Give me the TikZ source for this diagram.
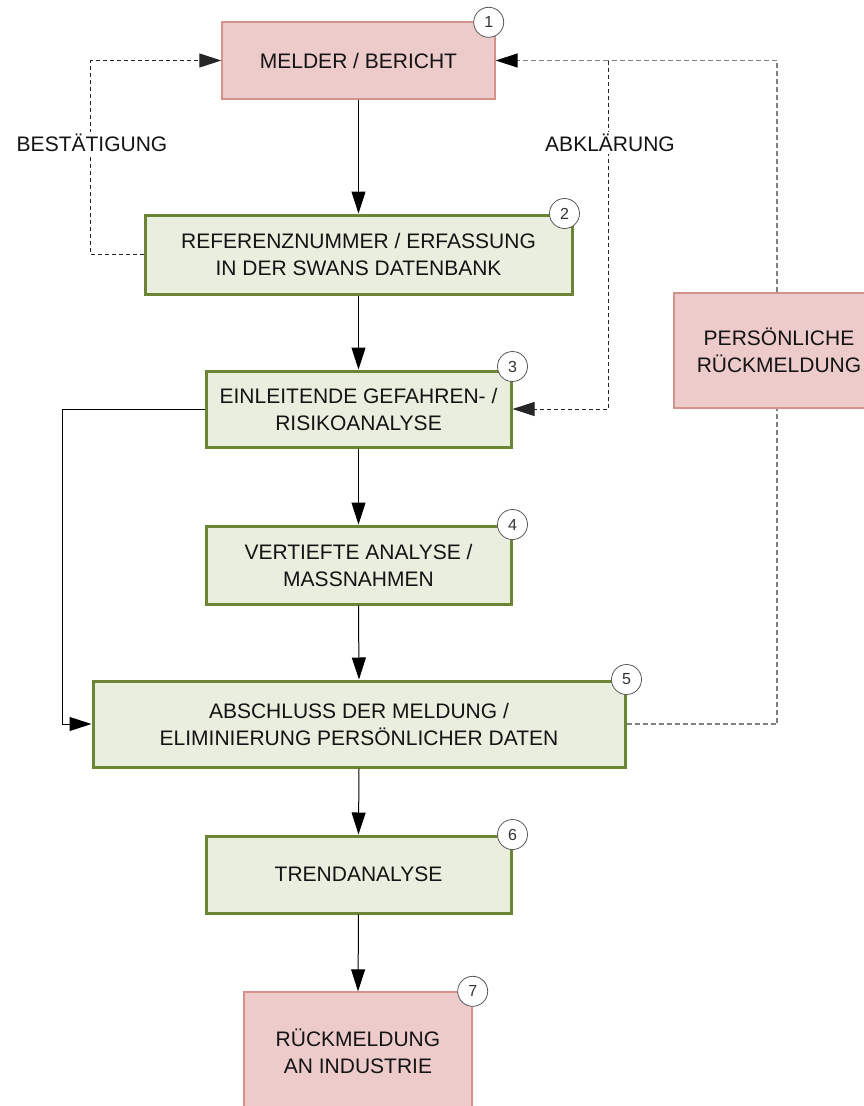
\documentclass[tikz,border=0pt]{standalone}
\usepackage{fontspec}
\setmainfont{Liberation Sans}
\usepackage{xcolor}
\usepackage{tikz}
\usetikzlibrary{arrows.meta,calc,positioning}
\definecolor{fpink}{HTML}{ECCBCA}
\definecolor{fpinkline}{HTML}{D4928C}
\definecolor{fgreen}{HTML}{EAEEDE}
\definecolor{fgreenline}{HTML}{6B8535}
\tikzset{
  >={Triangle[length=22pt,width=14pt]},
  ftext/.style={font=\fontsize{21}{27}\selectfont, text=black!92, align=center},
  fmeld/.style={ftext, rectangle, draw=fpinkline, fill=fpink, line width=1.4pt, inner sep=0pt},
  fproc/.style={ftext, rectangle, draw=fgreenline, fill=fgreen, line width=3pt, inner sep=0pt},
  fnum/.style={circle, draw=black!65, fill=white, line width=0.8pt, minimum size=30pt,
               inner sep=0pt, font=\fontsize{16}{16}\selectfont, text=black!80},
  fflow/.style={->, black, line width=1pt},
  fdash/.style={black!85, line width=1pt, dash pattern=on 4pt off 3pt},
  fdashg/.style={black!50, line width=1.2pt, dash pattern=on 5pt off 3pt},
  flbl/.style={ftext, fill=white, inner sep=2pt},
}
\begin{document}
\begin{tikzpicture}[x=1pt,y=-1pt]
  \useasboundingbox (0,0) rectangle (863,1106);

  % Hauptablauf
  \node[fmeld, minimum width=273pt, minimum height=77pt] (b1) at (358.5,60.5) {MELDER / BERICHT};
  \node[fproc, minimum width=427pt, minimum height=79pt] (b2) at (358.5,254.5)
       {REFERENZNUMMER / ERFASSUNG\\IN DER SWANS DATENBANK};
  \node[fproc, minimum width=305pt, minimum height=76pt] (b3) at (358.5,409)
       {EINLEITENDE GEFAHREN- /\\RISIKOANALYSE};
  \node[fproc, minimum width=305pt, minimum height=78pt] (b4) at (358.5,565)
       {VERTIEFTE ANALYSE /\\MASSNAHMEN};
  \node[fproc, minimum width=532pt, minimum height=86pt] (b5) at (359,724)
       {ABSCHLUSS DER MELDUNG /\\ELIMINIERUNG PERSÖNLICHER DATEN};
  \node[fproc, minimum width=305pt, minimum height=77pt] (b6) at (358.5,874.5) {TRENDANALYSE};
  \node[fmeld, minimum width=228pt, minimum height=118pt] (b7) at (358,1051)
       {RÜCKMELDUNG\\AN INDUSTRIE};
  \node[fmeld, minimum width=210pt, minimum height=115pt] (pers) at (779,350.5)
       {PERSÖNLICHE\\RÜCKMELDUNG};

  % Nummern
  \node[fnum] (n1) at ([xshift=-7pt,yshift=-1pt]b1.north east) {1};
  \node[fnum] (n2) at ([xshift=-9pt]b2.north east) {2};
  \node[fnum] (n3) at ([yshift=3pt]b3.north east) {3};
  \node[fnum] (n4) at (b4.north east) {4};
  \node[fnum] (n5) at (b5.north east) {5};
  \node[fnum] (n6) at (b6.north east) {6};
  \node[fnum] (n7) at (b7.north east) {7};

  % Pfeile nach unten
  \draw[fflow] (b1.south) -- (b2.north);
  \draw[fflow] (b2.south) -- (b3.north);
  \draw[fflow] (b3.south) -- (b4.north);
  \draw[fflow] (b4.south) -- (b5.north);
  \draw[fflow] (b5.south) -- (b6.north);
  \draw[fflow] (b6.south) -- (b7.north);

  % Abkuerzung 3 -> 5
  \draw[fflow] (b3.west) -- ++(-142,0) |- (b5.west);

  % Bestaetigung
  \draw[fdash, ->] (b2.west) -- ++(-53,0) |- (b1.west);
  \node[flbl] (lbest) at (92,143) {BESTÄTIGUNG};

  % Abklaerung / persoenliche Rueckmeldung
  \coordinate (abk) at (608,60.5);
  \draw[fdashg] ([xshift=-2pt]pers.north) |- (abk);
  \draw[fdashg, -{Triangle[length=22pt,width=14pt,fill=black,color=black]}] (abk) -- (b1.east);
  \draw[fdash, ->] (abk) |- (b3.east);
  \draw[fdashg] (b5.east) -| ([xshift=-2pt]pers.south);
  \node[flbl] (labk) at (610,143) {ABKLÄRUNG};

\end{tikzpicture}
\end{document}
